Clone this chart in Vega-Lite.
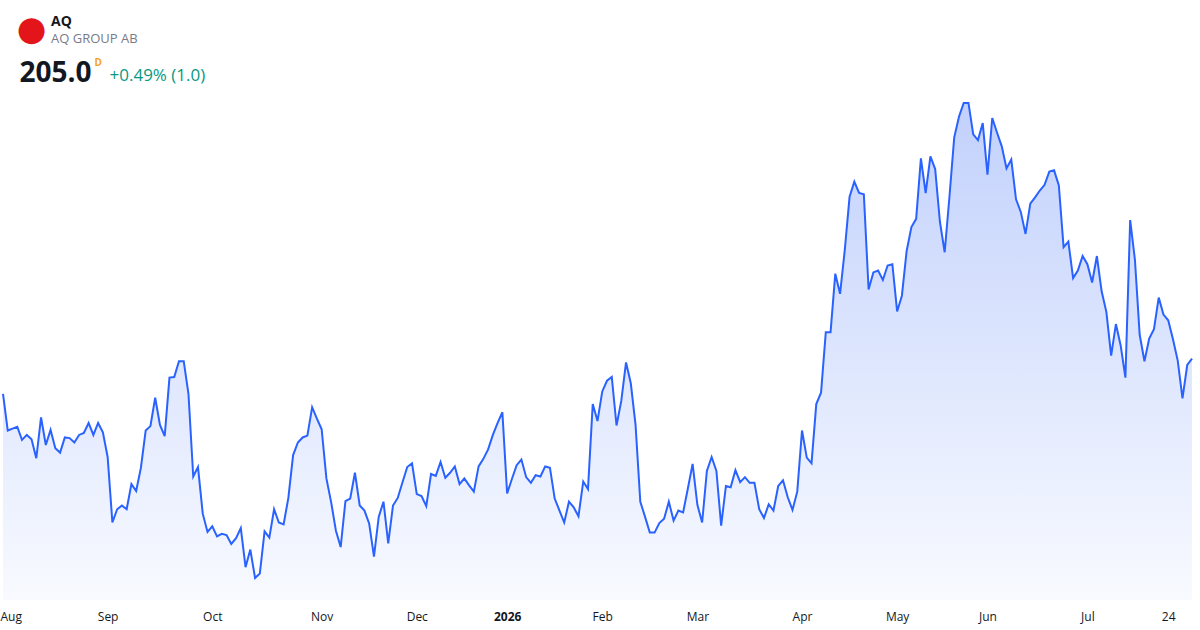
{
"$schema": "https://vega.github.io/schema/vega-lite/v6.json",
"width": 1189,
"height": 510,
"autosize": {"type": "none"},
"padding": {"left": 3, "top": 90, "right": 8, "bottom": 30},
"background": "white",
"config": {"view": {"stroke": null}, "font": "Open Sans"},
"title": {"text": "AQ", "subtitle": "AQ GROUP AB", "anchor": "start", "frame": "group", "dx": 48, "dy": 38, "fontSize": 14, "fontWeight": "bold", "color": "#131722", "font": "Open Sans", "subtitleFont": "Open Sans", "subtitleFontSize": 13, "subtitleColor": "#787b86", "subtitlePadding": 4},
"data": {"values": [
{"date":"2025-07-31","close":199.4},{"date":"2025-08-01","close":193.6},{"date":"2025-08-04","close":193.9},{"date":"2025-08-05","close":194.2},{"date":"2025-08-06","close":192.1},{"date":"2025-08-07","close":192.9},{"date":"2025-08-08","close":192.2},{"date":"2025-08-11","close":189.2},{"date":"2025-08-12","close":195.7},{"date":"2025-08-13","close":191.3},{"date":"2025-08-14","close":193.7},{"date":"2025-08-15","close":190.8},{"date":"2025-08-18","close":190.1},{"date":"2025-08-19","close":192.5},{"date":"2025-08-20","close":192.4},{"date":"2025-08-21","close":191.7},{"date":"2025-08-22","close":192.9},{"date":"2025-08-25","close":193.2},{"date":"2025-08-26","close":194.8},{"date":"2025-08-27","close":192.9},{"date":"2025-08-28","close":194.8},{"date":"2025-08-29","close":193.3},
{"date":"2025-09-01","close":189.4},{"date":"2025-09-02","close":179.0},{"date":"2025-09-03","close":181.1},{"date":"2025-09-04","close":181.7},{"date":"2025-09-05","close":181.1},{"date":"2025-09-08","close":185.1},{"date":"2025-09-09","close":184.0},{"date":"2025-09-10","close":187.7},{"date":"2025-09-11","close":193.6},{"date":"2025-09-12","close":194.3},{"date":"2025-09-15","close":198.8},{"date":"2025-09-16","close":194.5},{"date":"2025-09-17","close":192.7},{"date":"2025-09-18","close":202.0},{"date":"2025-09-19","close":202.1},{"date":"2025-09-22","close":204.6},{"date":"2025-09-23","close":204.6},{"date":"2025-09-24","close":199.4},{"date":"2025-09-25","close":186.3},{"date":"2025-09-26","close":187.8},{"date":"2025-09-29","close":180.4},{"date":"2025-09-30","close":177.5},
{"date":"2025-10-01","close":178.4},{"date":"2025-10-02","close":176.8},{"date":"2025-10-03","close":177.2},{"date":"2025-10-06","close":177.0},{"date":"2025-10-07","close":175.6},{"date":"2025-10-08","close":176.5},{"date":"2025-10-09","close":178.1},{"date":"2025-10-10","close":171.9},{"date":"2025-10-13","close":174.7},{"date":"2025-10-14","close":170.2},{"date":"2025-10-15","close":170.9},{"date":"2025-10-16","close":177.6},{"date":"2025-10-17","close":176.6},{"date":"2025-10-20","close":181.1},{"date":"2025-10-21","close":179.0},{"date":"2025-10-22","close":178.7},{"date":"2025-10-23","close":182.9},{"date":"2025-10-24","close":189.7},{"date":"2025-10-27","close":191.7},{"date":"2025-10-28","close":192.5},{"date":"2025-10-29","close":192.8},{"date":"2025-10-30","close":197.3},{"date":"2025-10-31","close":195.5},
{"date":"2025-11-03","close":193.8},{"date":"2025-11-04","close":186.0},{"date":"2025-11-05","close":182.2},{"date":"2025-11-06","close":177.7},{"date":"2025-11-07","close":175.1},{"date":"2025-11-10","close":182.4},{"date":"2025-11-11","close":182.8},{"date":"2025-11-12","close":186.9},{"date":"2025-11-13","close":181.7},{"date":"2025-11-14","close":180.9},{"date":"2025-11-17","close":178.8},{"date":"2025-11-18","close":173.6},{"date":"2025-11-19","close":179.9},{"date":"2025-11-20","close":182.3},{"date":"2025-11-21","close":175.7},{"date":"2025-11-24","close":181.7},{"date":"2025-11-25","close":182.9},{"date":"2025-11-26","close":185.4},{"date":"2025-11-27","close":187.8},{"date":"2025-11-28","close":188.4},
{"date":"2025-12-01","close":183.5},{"date":"2025-12-02","close":183.2},{"date":"2025-12-03","close":181.6},{"date":"2025-12-04","close":186.7},{"date":"2025-12-05","close":186.4},{"date":"2025-12-08","close":188.6},{"date":"2025-12-09","close":186.1},{"date":"2025-12-10","close":186.9},{"date":"2025-12-11","close":187.9},{"date":"2025-12-12","close":185.1},{"date":"2025-12-15","close":186.0},{"date":"2025-12-16","close":184.9},{"date":"2025-12-17","close":183.9},{"date":"2025-12-18","close":187.9},{"date":"2025-12-19","close":189.1},{"date":"2025-12-22","close":190.6},{"date":"2025-12-23","close":192.9},{"date":"2025-12-29","close":194.8},{"date":"2025-12-30","close":196.5},
{"date":"2026-01-02","close":183.6},{"date":"2026-01-05","close":185.9},{"date":"2026-01-07","close":188.1},{"date":"2026-01-08","close":189.0},{"date":"2026-01-09","close":186.2},{"date":"2026-01-12","close":185.3},{"date":"2026-01-13","close":186.5},{"date":"2026-01-14","close":186.3},{"date":"2026-01-15","close":187.9},{"date":"2026-01-16","close":187.7},{"date":"2026-01-19","close":182.8},{"date":"2026-01-20","close":180.9},{"date":"2026-01-21","close":179.0},{"date":"2026-01-22","close":182.3},{"date":"2026-01-23","close":181.4},{"date":"2026-01-26","close":180.0},{"date":"2026-01-27","close":185.5},{"date":"2026-01-28","close":184.3},{"date":"2026-01-29","close":197.8},{"date":"2026-01-30","close":195.1},
{"date":"2026-02-02","close":199.8},{"date":"2026-02-03","close":201.5},{"date":"2026-02-04","close":202.1},{"date":"2026-02-05","close":194.4},{"date":"2026-02-06","close":198.3},{"date":"2026-02-09","close":204.4},{"date":"2026-02-10","close":201.1},{"date":"2026-02-11","close":194.5},{"date":"2026-02-12","close":182.3},{"date":"2026-02-13","close":179.9},{"date":"2026-02-16","close":177.4},{"date":"2026-02-17","close":177.4},{"date":"2026-02-18","close":178.9},{"date":"2026-02-19","close":179.6},{"date":"2026-02-20","close":182.3},{"date":"2026-02-23","close":179.3},{"date":"2026-02-24","close":180.9},{"date":"2026-02-25","close":180.6},{"date":"2026-02-26","close":184.4},{"date":"2026-02-27","close":188.3},
{"date":"2026-03-02","close":181.8},{"date":"2026-03-03","close":179.0},{"date":"2026-03-04","close":187.2},{"date":"2026-03-05","close":189.4},{"date":"2026-03-06","close":187.2},{"date":"2026-03-09","close":178.5},{"date":"2026-03-10","close":184.8},{"date":"2026-03-11","close":184.6},{"date":"2026-03-12","close":187.3},{"date":"2026-03-13","close":185.4},{"date":"2026-03-16","close":186.2},{"date":"2026-03-17","close":185.3},{"date":"2026-03-18","close":185.3},{"date":"2026-03-19","close":181.1},{"date":"2026-03-20","close":179.7},{"date":"2026-03-23","close":181.9},{"date":"2026-03-24","close":180.9},{"date":"2026-03-25","close":184.8},{"date":"2026-03-26","close":185.7},{"date":"2026-03-27","close":183.0},{"date":"2026-03-30","close":181.0},{"date":"2026-03-31","close":183.9},
{"date":"2026-04-01","close":193.6},{"date":"2026-04-02","close":189.3},{"date":"2026-04-07","close":188.4},{"date":"2026-04-08","close":197.8},{"date":"2026-04-09","close":199.6},{"date":"2026-04-10","close":209.2},{"date":"2026-04-13","close":209.2},{"date":"2026-04-14","close":218.5},{"date":"2026-04-15","close":215.3},{"date":"2026-04-16","close":222.3},{"date":"2026-04-17","close":230.7},{"date":"2026-04-20","close":233.1},{"date":"2026-04-21","close":231.3},{"date":"2026-04-22","close":231.1},{"date":"2026-04-23","close":216.0},{"date":"2026-04-24","close":218.7},{"date":"2026-04-27","close":219.0},{"date":"2026-04-28","close":217.5},{"date":"2026-04-29","close":219.8},{"date":"2026-04-30","close":220.0},
{"date":"2026-05-04","close":212.5},{"date":"2026-05-05","close":215.0},{"date":"2026-05-06","close":222.1},{"date":"2026-05-07","close":225.9},{"date":"2026-05-08","close":227.2},{"date":"2026-05-11","close":236.8},{"date":"2026-05-12","close":231.3},{"date":"2026-05-13","close":237.1},{"date":"2026-05-15","close":235.1},{"date":"2026-05-18","close":226.7},{"date":"2026-05-19","close":221.9},{"date":"2026-05-20","close":230.7},{"date":"2026-05-21","close":240.1},{"date":"2026-05-22","close":243.4},{"date":"2026-05-25","close":245.6},{"date":"2026-05-26","close":245.6},{"date":"2026-05-27","close":240.6},{"date":"2026-05-28","close":239.7},{"date":"2026-05-29","close":242.4},
{"date":"2026-06-01","close":234.2},{"date":"2026-06-02","close":243.2},{"date":"2026-06-03","close":240.9},{"date":"2026-06-04","close":238.7},{"date":"2026-06-05","close":235.2},{"date":"2026-06-08","close":236.6},{"date":"2026-06-09","close":230.3},{"date":"2026-06-10","close":228.3},{"date":"2026-06-11","close":224.8},{"date":"2026-06-12","close":229.6},{"date":"2026-06-15","close":230.6},{"date":"2026-06-16","close":231.7},{"date":"2026-06-17","close":232.6},{"date":"2026-06-18","close":234.7},{"date":"2026-06-22","close":234.9},{"date":"2026-06-23","close":232.5},{"date":"2026-06-24","close":222.7},{"date":"2026-06-25","close":223.6},{"date":"2026-06-26","close":217.8},{"date":"2026-06-29","close":219.0},{"date":"2026-06-30","close":221.3},
{"date":"2026-07-01","close":220.0},{"date":"2026-07-02","close":217.1},{"date":"2026-07-03","close":221.3},{"date":"2026-07-06","close":215.7},{"date":"2026-07-07","close":212.4},{"date":"2026-07-08","close":205.5},{"date":"2026-07-09","close":210.5},{"date":"2026-07-10","close":207.1},{"date":"2026-07-13","close":202.0},{"date":"2026-07-14","close":227.0},{"date":"2026-07-15","close":220.7},{"date":"2026-07-16","close":208.8},{"date":"2026-07-17","close":204.6},{"date":"2026-07-20","close":208.2},{"date":"2026-07-21","close":209.7},{"date":"2026-07-22","close":214.7},{"date":"2026-07-23","close":212.0},{"date":"2026-07-24","close":211.1},{"date":"2026-07-27","close":208.1},{"date":"2026-07-28","close":204.7},{"date":"2026-07-29","close":198.7},{"date":"2026-07-30","close":204.0},{"date":"2026-07-31","close":205.0}
]},
"layer": [
{
"mark": {"type": "area", "opacity": 1, "fill": {"x1": 0, "y1": 0, "x2": 0, "y2": 1, "gradient": "linear", "stops": [{"offset": 0, "color": "#c2d1fc"}, {"offset": 1, "color": "#f8faff"}]}},
"encoding": {
"x": {"field": "date", "type": "ordinal", "scale": {"type": "point", "padding": 0},
"axis": {"orient": "bottom", "zindex": 1, "values": ["2025-07-31","2025-09-01","2025-10-01","2025-11-03","2025-12-01","2026-01-02","2026-02-02","2026-03-02","2026-04-01","2026-05-04","2026-06-01","2026-07-01","2026-07-24"],
"labelExpr": "datum.value == '2025-07-31' ? 'Aug' : datum.value == '2026-01-02' ? '2026' : datum.value == '2026-07-24' ? '24' : utcFormat(toDate(datum.value), '%b')",
"labelAngle": 0, "labelFlush": 1, "labelFlushOffset": 3, "labelOverlap": false, "labelFont": "Open Sans", "labelFontSize": 12, "labelColor": "#131722", "labelPadding": 11,
"labelFontWeight": {"condition": {"test": "datum.value == '2026-01-02'", "value": "bold"}, "value": "normal"},
"domain": false, "ticks": false, "grid": false,
"title": "D", "titleX": 91, "titleY": -535, "titleAlign": "left", "titleBaseline": "alphabetic", "titleFont": "Open Sans", "titleFontSize": 10, "titleFontWeight": "bold", "titleColor": "#f7a21b"}},
"y": {"field": "close", "type": "quantitative", "scale": {"domain": [166.7, 247.65], "zero": false, "nice": false},
"axis": {"orient": "left", "domain": false, "ticks": false, "labels": false, "grid": false,
"title": "205.0", "titleX": 16, "titleY": -9, "titleAngle": 0, "titleAlign": "left", "titleBaseline": "alphabetic", "titleFont": "Open Sans", "titleFontSize": 28, "titleFontWeight": "bold", "titleColor": "#131722"}},
"y2": {"datum": 166.7}
}
},
{
"mark": {"type": "line", "color": "#2962ff", "strokeWidth": 2},
"encoding": {
"x": {"field": "date", "type": "ordinal", "scale": {"type": "point", "padding": 0},
"axis": {"orient": "top", "domain": false, "ticks": false, "labels": false, "grid": false,
"title": "●", "titleX": 28, "titleY": -61, "titleAlign": "center", "titleBaseline": "middle", "titleFont": "DejaVu Sans", "titleFontSize": 34, "titleFontWeight": "normal", "titleColor": "#e3151a"}},
"y": {"field": "close", "type": "quantitative", "scale": {"domain": [166.7, 247.65], "zero": false, "nice": false},
"axis": {"orient": "right", "domain": false, "ticks": false, "labels": false, "grid": false,
"title": "+0.49% (1.0)", "titleX": -1083, "titleY": -10, "titleAngle": 0, "titleAlign": "left", "titleBaseline": "alphabetic", "titleFont": "Open Sans", "titleFontSize": 17, "titleFontWeight": "normal", "titleColor": "#089981"}}
}
}
],
"resolve": {"axis": {"x": "independent", "y": "independent"}}
}
